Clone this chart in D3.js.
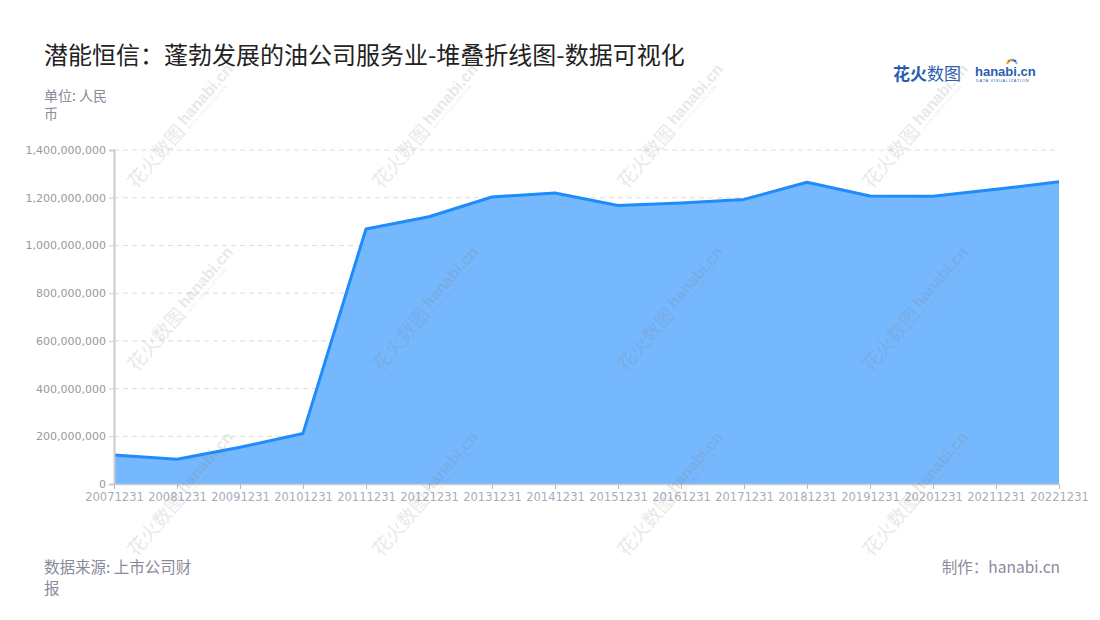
<!DOCTYPE html>
<html>
<head>
<meta charset="utf-8">
<script src="https://cdn.jsdelivr.net/npm/d3@7"></script>
<style>
  body { margin: 0; background: #fff; }
  svg { font-family: "Noto Sans CJK SC", "Noto Sans", sans-serif; }
</style>
</head>
<body>
<div id="chart"></div>
<script>
// data
const periods = ["20071231", "20081231", "20091231", "20101231", "20111231", "20121231",
  "20131231", "20141231", "20151231", "20161231", "20171231", "20181231",
  "20191231", "20201231", "20211231", "20221231"];
const revenue = [122e6, 104e6, 154e6, 212e6, 1069e6, 1120e6, 1203e6, 1220e6,
  1167e6, 1178e6, 1193e6, 1265e6, 1207e6, 1206e6, 1235e6, 1267e6];
const yTicks = [0, 2e8, 4e8, 6e8, 8e8, 1e9, 1.2e9, 1.4e9];

const W = 1100, H = 620;
const margin = { top: 150, right: 41, bottom: 136, left: 114 };

const svg = d3.select("#chart").append("svg")
  .attr("width", W).attr("height", H);

// title and notes
svg.append("text")
  .attr("x", 44).attr("y", 64)
  .style("font-size", "24px").attr("fill", "#222")
  .text("潜能恒信：蓬勃发展的油公司服务业-堆叠折线图-数据可视化");

svg.append("text").attr("x", 44).attr("y", 101)
  .style("font-size", "14px").attr("fill", "#8a8a9a").text("单位: 人民");
svg.append("text").attr("x", 44).attr("y", 119)
  .style("font-size", "14px").attr("fill", "#8a8a9a").text("币");

// logo
const logo = svg.append("g").attr("transform", "translate(893,80)");
logo.append("text").attr("x", 0).attr("y", 0)
  .style("font-size", "17px").style("font-weight", "bold").attr("fill", "#2a5db0")
  .text("花火");
logo.append("text").attr("x", 34).attr("y", 0)
  .style("font-size", "17px").attr("fill", "#2a5db0")
  .text("数图");
logo.append("text").attr("x", 82).attr("y", -4)
  .style("font-family", "Arial, 'Liberation Sans', sans-serif")
  .style("font-size", "13px").style("font-weight", "bold").attr("fill", "#2a5db0")
  .text("hanabi.cn");
logo.append("text").attr("x", 83).attr("y", 2)
  .style("font-family", "Arial, 'Liberation Sans', sans-serif")
  .style("font-size", "4px").attr("fill", "#2a5db0").attr("letter-spacing", "0.7")
  .text("DATA VISUALIZATION");
const sparkColors = ["#f5a623", "#e94e77", "#7ed321", "#4a90e2", "#bd10e0", "#50e3c2"];
sparkColors.forEach((c, i) => {
  const a = -Math.PI / 2 + (i - 2.5) * 0.45;
  logo.append("circle")
    .attr("cx", 119 + Math.cos(a) * 5).attr("cy", -15 + Math.sin(a) * 5)
    .attr("r", 1.3).attr("fill", c);
});

// footer
svg.append("text").attr("x", 44).attr("y", 573)
  .style("font-size", "15.5px").attr("fill", "#8a8a9a").text("数据来源: 上市公司财");
svg.append("text").attr("x", 44).attr("y", 594)
  .style("font-size", "15.5px").attr("fill", "#8a8a9a").text("报");
svg.append("text").attr("x", 1060).attr("y", 573).attr("text-anchor", "end")
  .style("font-size", "15.5px").attr("fill", "#8a8a9a").text("制作：hanabi.cn");

// scales
const x = d3.scalePoint().domain(periods).range([margin.left, W - margin.right]);
const y = d3.scaleLinear().domain([0, 1.4e9]).range([H - margin.bottom, margin.top]);

const fmt = d3.format(",");

// grid
svg.append("g").selectAll("line")
  .data(yTicks.slice(1))
  .join("line")
  .attr("x1", margin.left).attr("x2", W - margin.right)
  .attr("y1", d => y(d)).attr("y2", d => y(d))
  .attr("stroke", "#dcdcdc").attr("stroke-dasharray", "5,4");

// area + line
const pts = periods.map((p, i) => ({ p, v: revenue[i] }));
const area = d3.area().x(d => x(d.p)).y0(y(0)).y1(d => y(d.v));
const line = d3.line().x(d => x(d.p)).y(d => y(d.v));

svg.append("path").datum(pts)
  .attr("d", area).attr("fill", "#76b8fd");
svg.append("path").datum(pts)
  .attr("d", line).attr("fill", "none")
  .attr("stroke", "#1e8cfa").attr("stroke-width", 3).attr("stroke-linejoin", "round");

// y axis
const yAxis = svg.append("g")
  .attr("transform", `translate(${margin.left},0)`)
  .call(d3.axisLeft(y).tickValues(yTicks).tickFormat(fmt).tickSize(5).tickPadding(3));
yAxis.select(".domain").attr("stroke", "#ccc").attr("stroke-width", 2);
yAxis.selectAll(".tick line").attr("stroke", "#ccc");
yAxis.selectAll(".tick text").attr("fill", "#999")
  .style("font-family", "'DejaVu Sans', sans-serif").style("font-size", "11px");

// x axis
const xAxis = svg.append("g")
  .attr("transform", `translate(0,${H - margin.bottom})`)
  .call(d3.axisBottom(x).tickSize(5).tickPadding(4).tickSizeOuter(0));
xAxis.select(".domain").attr("stroke", "#ccc").attr("stroke-width", 1.5);
xAxis.selectAll(".tick line").attr("stroke", "#bbb");
xAxis.selectAll(".tick text").attr("fill", "#a8acbb")
  .style("font-family", "'DejaVu Sans', sans-serif").style("font-size", "11.5px");

// watermarks
const wmX = [180, 425, 670, 915], wmY = [127, 310, 495];
const wm = svg.append("g").attr("pointer-events", "none");
wmY.forEach(cy => wmX.forEach(cx => {
  const g = wm.append("g")
    .attr("transform", `translate(${cx},${cy}) rotate(-49)`)
    .attr("opacity", 0.16);
  g.append("text").attr("x", -76).attr("y", 8)
    .style("font-size", "19px").attr("fill", "#777")
    .text("花火数图");
  g.append("text").attr("x", 4).attr("y", 3)
    .style("font-family", "Arial, 'Liberation Sans', sans-serif")
    .style("font-size", "16px").style("font-weight", "bold").attr("fill", "#777")
    .text("hanabi.cn");
  g.append("text").attr("x", 5).attr("y", 9)
    .style("font-family", "Arial, 'Liberation Sans', sans-serif")
    .style("font-size", "4.5px").attr("fill", "#777").attr("letter-spacing", "0.6")
    .text("DATA VISUALIZATION");
}));
</script>
</body>
</html>
